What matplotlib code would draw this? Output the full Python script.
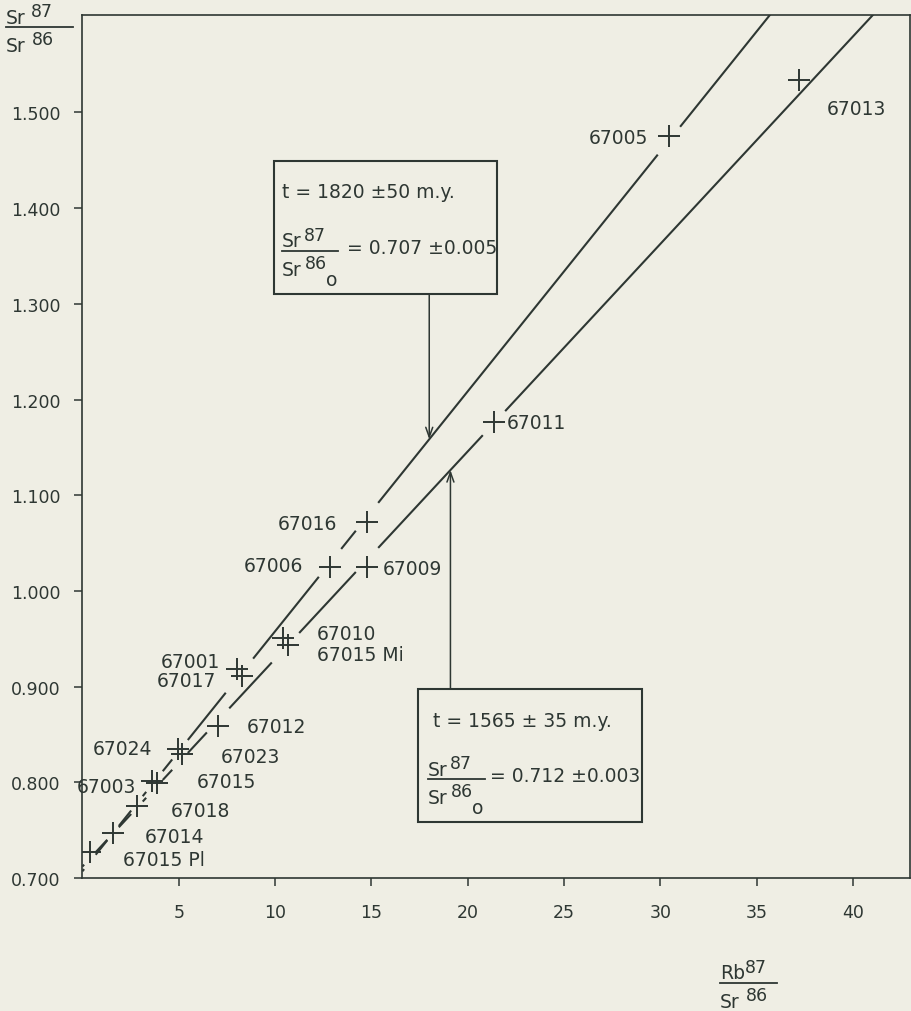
import matplotlib
matplotlib.use("Agg")
import matplotlib.pyplot as plt
from matplotlib.lines import Line2D
import numpy as np

# data
names = ["67013", "67005", "67011", "67016", "67006", "67009", "67010", "67015 Mi",
         "67001", "67017", "67012", "67024", "67023", "67003", "67015", "67018",
         "67014", "67015 Pl"]
rb87_sr86 = [37.19, 30.44, 21.36, 14.77, 12.85, 14.77, 10.41, 10.67,
             8.02, 8.28, 7.04, 4.96, 5.17, 3.61, 3.87, 2.83, 1.59, 0.39]
sr87_sr86 = [1.534, 1.475, 1.176, 1.072, 1.025, 1.025, 0.951, 0.943,
             0.918, 0.911, 0.859, 0.835, 0.830, 0.801, 0.799, 0.775, 0.747, 0.727]

# isochrons: intercept (initial ratio), slope
iso_upper = (0.707, 0.02508)   # t = 1820 m.y.
iso_lower = (0.712, 0.02169)   # t = 1565 m.y.

# samples where each isochron is interrupted
upper_breaks = ["67005", "67016", "67006", "67001", "67017", "67024", "67023",
                "67003", "67015", "67018", "67014", "67015 Pl"]
lower_breaks = ["67011", "67009", "67010", "67015 Mi", "67012", "67024", "67023",
                "67003", "67015", "67018", "67014", "67015 Pl"]

xticks = [5, 10, 15, 20, 25, 30, 35, 40]
yticks = [0.7, 0.8, 0.9, 1.0, 1.1, 1.2, 1.3, 1.4, 1.5]

# label placement (offset in pixels from the cross, alignment)
label_pos = [(28, 29, "left"), (-21, 1, "right"), (13, 0, "left"), (-30, 1, "right"),
             (-27, -1, "right"), (16, 2, "left"), (34, -4, "left"), (29, 9, "left"),
             (-17, -8, "right"), (-26, 4, "right"), (29, 1, "left"), (-26, 0, "right"),
             (39, 3, "left"), (-16, 5, "right"), (40, -2, "left"), (34, 4, "left"),
             (32, 3, "left"), (33, 7, "left")]

bg = "#efeee4"
ink = "#2e3733"
W, H = 912, 1012
plt.rcParams["font.family"] = ["DejaVu Sans"]

fig = plt.figure(figsize=(W / 100, H / 100), dpi=100, facecolor=bg)
ax = fig.add_axes([82.4 / W, 1 - 879 / H, (910 - 82.4) / W, (879 - 16) / H])
ax.set_facecolor(bg)
ax.set_xlim(0, 42.95)
ax.set_ylim(0.7, 1.6018)

for s in ax.spines.values():
    s.set_color(ink)
    s.set_linewidth(1.2)

ax.set_xticks(xticks)
ax.set_xticklabels([str(t) for t in xticks])
ax.set_yticks(yticks)
ax.set_yticklabels(["%.3f" % t for t in yticks])
ax.tick_params(axis="both", direction="out", length=6, width=1.1, colors=ink,
               labelsize=12.5)
ax.tick_params(axis="x", pad=12)
ax.tick_params(axis="y", pad=10)
ax.tick_params(top=False, right=False)


def draw_isochron(line, breaks):
    b, m = line
    gaps = []
    for n in breaks:
        x = rb87_sr86[names.index(n)]
        g = 0.3 if x < 6 else 0.58
        gaps.append((x - g, x + g))
    gaps.sort()
    start = 0.0
    for g0, g1 in gaps:
        if g0 > start:
            xs = np.array([start, g0])
            ax.plot(xs, b + m * xs, color=ink, lw=1.5, solid_capstyle="butt")
        start = max(start, g1)
    xs = np.array([start, 45.0])
    ax.plot(xs, b + m * xs, color=ink, lw=1.5, solid_capstyle="butt")


draw_isochron(iso_upper, upper_breaks)
draw_isochron(iso_lower, lower_breaks)

ax.plot(rb87_sr86, sr87_sr86, linestyle="none", marker="+", markersize=16.5,
        markeredgewidth=1.4, color=ink)

for n, x, y, (dx, dy, ha) in zip(names, rb87_sr86, sr87_sr86, label_pos):
    ax.annotate(n, (x, y), xytext=(dx * 0.72, -dy * 0.72), textcoords="offset points",
                ha=ha, va="center", fontsize=13.5, color=ink)


def ftext(px, py, s, size=13.5, ha="left", va="center"):
    fig.text(px / W, 1 - py / H, s, fontsize=size, ha=ha, va=va, color=ink)


def fline(x0, x1, py, lw=1.3):
    fig.add_artist(Line2D([x0 / W, x1 / W], [1 - py / H, 1 - py / H],
                          transform=fig.transFigure, color=ink, lw=lw))


def ratio(px, bar, w, num, sup_num, den, sup_den, sub=False, sx=22):
    ftext(px, bar - 10, num)
    ftext(px + sx, bar - 16, sup_num, size=12.5)
    fline(px, px + w, bar)
    ftext(px, bar + 19, den)
    ftext(px + sx + 1, bar + 12, sup_den, size=12.5)
    if sub:
        ftext(px + sx + 22, bar + 29, "o")


# axis titles
ratio(6, 28, 67, "Sr", "87", "Sr", "86", sx=25)
ratio(720, 984, 57, "Rb", "87", "Sr", "86", sx=25)

# result boxes
xt = ax.get_xaxis_transform()
box1 = (274, 497, 162, 295)
box2 = (418, 642, 690, 823)
for x0, x1, y0, y1 in (box1, box2):
    fig.add_artist(plt.Rectangle((x0 / W, 1 - y1 / H), (x1 - x0) / W, (y1 - y0) / H,
                                 transform=fig.transFigure, fill=False,
                                 edgecolor=ink, lw=1.5))

ftext(282, 193, "t = 1820 ±50 m.y.")
ratio(282, 252, 56, "Sr", "87", "Sr", "86", sub=True)
ftext(347, 249, "= 0.707 ±0.005")

ftext(433, 722, "t = 1565 ± 35 m.y.")
ratio(428, 780, 57, "Sr", "87", "Sr", "86", sub=True)
ftext(490, 777, "= 0.712 ±0.003")

# arrows from the boxes to the isochrons
ax_h = 879 - 16
for (b, m), xa, ybox in ((iso_upper, 18.0, (879 - 295) / ax_h),
                         (iso_lower, 19.1, (879 - 690) / ax_h)):
    ax.annotate("", xy=(xa, b + m * xa), xycoords="data",
                xytext=(xa, ybox), textcoords=xt,
                arrowprops=dict(arrowstyle="->,head_length=0.7,head_width=0.25",
                                color=ink, lw=1.1, shrinkA=0, shrinkB=0))

fig.savefig("out.png", dpi=100, facecolor=bg)
